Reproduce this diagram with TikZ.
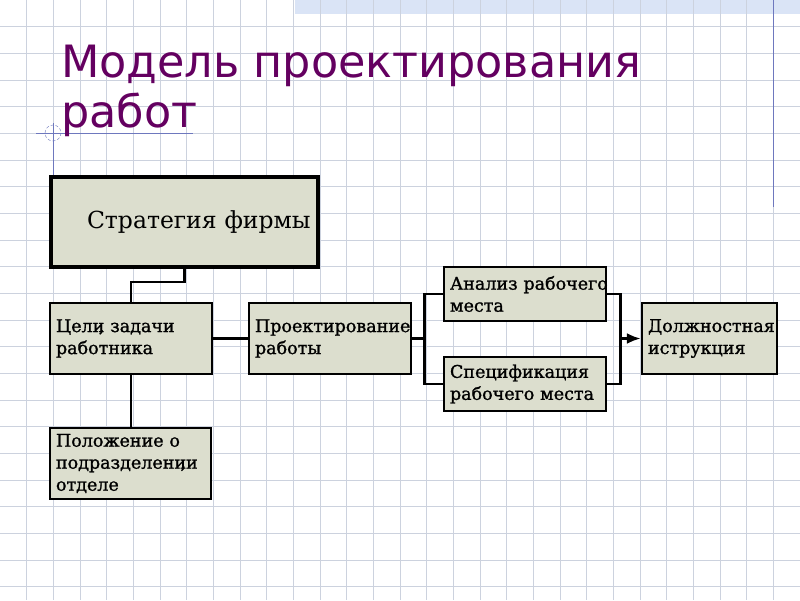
\documentclass[tikz,border=0pt]{standalone}
\usepackage{fontspec}
\setmainfont{DejaVu Serif}
\newfontfamily\boxfont[FakeBold=1.2]{DejaVu Serif}
\newfontfamily\titlefont{DejaVu Sans}
\usetikzlibrary{arrows.meta}

\definecolor{boxfill}{RGB}{220,222,206}
\definecolor{gridcol}{RGB}{204,210,222}
\definecolor{titlecol}{RGB}{100,0,96}
\definecolor{markblue}{RGB}{110,120,190}
\definecolor{bandcol}{RGB}{218,228,246}

\begin{document}
\begin{tikzpicture}[x=1pt,y=-1pt,
  blok/.style={draw=black,line width=2.5pt,fill=boxfill,inner xsep=6pt,inner ysep=0pt,
    align=left,font=\boxfont\fontsize{17.5}{22}\selectfont},
  link/.style={line width=2.5pt},
  titel/.style={anchor=base west,inner sep=0pt,text=titlecol,font=\titlefont\fontsize{44.5}{50}\selectfont}]
\useasboundingbox (0,0) rectangle (800,600);
%\draw [help lines,black!20!white] (0,0) grid (800,600);

% squared paper
\fill[white] (0,0) rectangle (800,600);
\fill[bandcol] (295,0) rectangle (800,14);
\foreach \i in {1,...,29}
  \draw[gridcol,line width=1pt] (\i*26.667,0) -- (\i*26.667,600);
\foreach \j in {1,...,22}
  \draw[gridcol,line width=1pt] (0,\j*26.667) -- (800,\j*26.667);
\draw[markblue,line width=1pt] (773,0) -- (773,207);
\draw[markblue,line width=1pt] (36,133) -- (193,133);
\draw[markblue,line width=1pt] (53,123) -- (53,177);
\draw[markblue,densely dashed] (53,133) circle[radius=8];

\node[titel] (title) at (61,77) {Модель проектирования};
\node[titel] (title2) at (61,127) {работ};

\node[blok,line width=3.5pt,text width=255pt,minimum height=90pt,
  font=\fontsize{23.5}{28}\selectfont] (strat) at (184.5,222) {\hspace*{30pt}Стратегия фирмы};
\node[blok,text width=150pt,minimum height=71pt] (goals) at (131,338.5) {Цели\llap{,} задачи\\работника};
\node[blok,text width=150pt,minimum height=71pt] (design) at (330,338.5) {Проектирование\\работы};
\node[blok,text width=149pt,minimum height=71pt] (position) at (130.5,463.5) {Положение о\\подразделени\llap{,}и\\отделе};
\node[blok,text width=150pt,minimum height=54pt] (analysis) at (525,294) {\mbox{Анализ рабочего}\\места};
\node[blok,text width=150pt,minimum height=54pt] (spec) at (525,384) {Спецификация\\\mbox{рабочего места}};
\node[blok,text width=123pt,minimum height=71pt] (duty) at (709.5,338.5) {Должностная\\иструкция};

\draw[link] (strat.south) -- ++(0,13) -| (goals.north);
\draw[link] (goals) -- (design);
\draw[link] (goals.south) -- (goals.south |- position.north);
\draw[link] (design.east) -- ++(12,0) coordinate (fork);
\draw[link] (analysis.west) -| (fork) |- (spec.west);
\draw[link] (analysis.east) -- ++(13,0) coordinate (join) |- (spec.east);
\draw[link,-{Latex[length=14pt,width=11pt]}] (join |- duty.west) -- (duty.west);

\end{tikzpicture}
\end{document}
